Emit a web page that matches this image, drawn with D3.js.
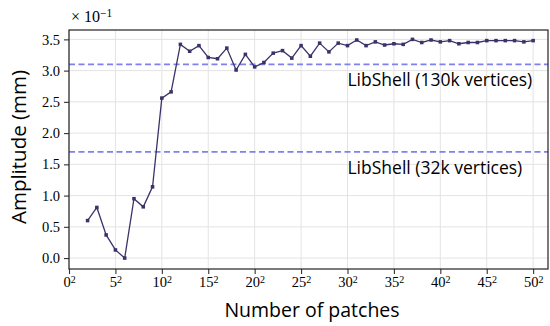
<!DOCTYPE html>
<html lang="en">
<head>
<meta charset="UTF-8">
<title>Amplitude vs number of patches</title>
<style>
    body { margin: 0; background: #fff; }
    .tick text { font-family: "Liberation Serif", serif; font-size: 14.5px; fill: #000; }
    .lab { font-family: "Open Sans", sans-serif; font-size: 19.5px; fill: #000; }
</style>
</head>
<body>
<script src="https://cdn.jsdelivr.net/npm/d3@7"></script>
<script>
    // sqrt of number of patches (x axis shows n^2)
    const sides = d3.range(2, 51);
    // amplitude in units of 1e-1 mm
    const amplitude = [0.60, 0.81, 0.37, 0.13, 0.00, 0.95, 0.82, 1.14, 2.56, 2.66,
        3.42, 3.31, 3.40, 3.21, 3.19, 3.36, 3.01, 3.26, 3.06, 3.13,
        3.28, 3.32, 3.20, 3.40, 3.23, 3.44, 3.30, 3.44, 3.40, 3.49,
        3.40, 3.46, 3.41, 3.43, 3.42, 3.50, 3.45, 3.49, 3.46, 3.48,
        3.43, 3.45, 3.45, 3.48, 3.48, 3.48, 3.48, 3.46, 3.48];
    const refLabels = ["LibShell (130k vertices)", "LibShell (32k vertices)"];
    const refValues = [3.1, 1.7];
    const xTicks = d3.range(0, 51, 5);
    const yTicks = [0, 0.5, 1.0, 1.5, 2.0, 2.5, 3.0, 3.5];

    const width = 550, height = 326;
    const margin = {top: 30, right: 2, bottom: 57, left: 69};

    const svg = d3.select("body").append("svg")
        .attr("width", width).attr("height", height);

    const x = d3.scaleLinear().domain([0, 51.6]).range([margin.left, width - margin.right]);
    const y = d3.scaleLinear().domain([-0.175, 3.65]).range([height - margin.bottom, margin.top]);

    // grid
    svg.append("g").selectAll("line").data(xTicks).join("line")
        .attr("x1", d => x(d)).attr("x2", d => x(d))
        .attr("y1", y.range()[0]).attr("y2", y.range()[1])
        .attr("stroke", "#e3e3e3").attr("stroke-width", 1);
    svg.append("g").selectAll("line").data(yTicks).join("line")
        .attr("x1", x.range()[0]).attr("x2", x.range()[1])
        .attr("y1", d => y(d)).attr("y2", d => y(d))
        .attr("stroke", "#e3e3e3").attr("stroke-width", 1);

    // reference lines
    svg.append("g").selectAll("line").data(refValues).join("line")
        .attr("x1", x.range()[0]).attr("x2", x.range()[1])
        .attr("y1", d => y(d)).attr("y2", d => y(d))
        .attr("stroke", "#8080ee").attr("stroke-width", 1.6)
        .attr("stroke-dasharray", "6,3.5");
    svg.append("g").selectAll("text").data(refValues).join("text")
        .attr("class", "lab")
        .style("font-size", "17.5px")
        .attr("x", x(30)).attr("y", d => y(d) + 22)
        .text((d, i) => refLabels[i]);

    // data line
    const line = d3.line().x((d, i) => x(sides[i])).y(d => y(d));
    svg.append("path").datum(amplitude)
        .attr("d", line).attr("fill", "none")
        .attr("stroke", "#3d3169").attr("stroke-width", 1.3);
    svg.append("g").selectAll("path").data(amplitude).join("path")
        .attr("d", d3.symbol(d3.symbolDiamond2, 16))
        .attr("transform", (d, i) => `translate(${x(sides[i])},${y(d)}) rotate(45)`)
        .attr("fill", "#3d3169");

    // axes
    const xAxis = svg.append("g")
        .attr("transform", `translate(0,${y.range()[0]})`)
        .call(d3.axisBottom(x).tickValues(xTicks).tickSize(5).tickPadding(3).tickFormat(""));
    xAxis.selectAll(".tick text").each(function (d) {
        const t = d3.select(this);
        t.append("tspan").text(d);
        t.append("tspan").attr("dy", "-0.45em").style("font-size", "10px").text("2");
    });
    const yAxis = svg.append("g")
        .attr("transform", `translate(${x.range()[0]},0)`)
        .call(d3.axisLeft(y).tickValues(yTicks).tickSize(5).tickPadding(4).tickFormat(d3.format(".1f")));
    [xAxis, yAxis].forEach(g => {
        g.select(".domain").remove();
        g.selectAll(".tick line").attr("stroke", "#333").attr("stroke-width", 1.1);
    });

    // frame
    svg.append("rect")
        .attr("x", x.range()[0]).attr("y", y.range()[1])
        .attr("width", x.range()[1] - x.range()[0]).attr("height", y.range()[0] - y.range()[1])
        .attr("fill", "none").attr("stroke", "#222").attr("stroke-width", 1.2);

    // offset label
    const off = svg.append("text").attr("x", x.range()[0] + 2).attr("y", 22)
        .style("font-family", "Liberation Serif, serif").style("font-size", "16px");
    off.append("tspan").text("× 10");
    off.append("tspan").attr("dy", "-0.45em").style("font-size", "11.5px").text("−1");

    // axis labels
    svg.append("text").attr("class", "lab")
        .attr("text-anchor", "middle")
        .attr("x", 312).attr("y", 317)
        .text("Number of patches");
    svg.append("text").attr("class", "lab")
        .style("font-size", "20.5px")
        .attr("text-anchor", "middle")
        .attr("transform", `translate(26,147) rotate(-90)`)
        .text("Amplitude (mm)");
</script>
</body>
</html>
